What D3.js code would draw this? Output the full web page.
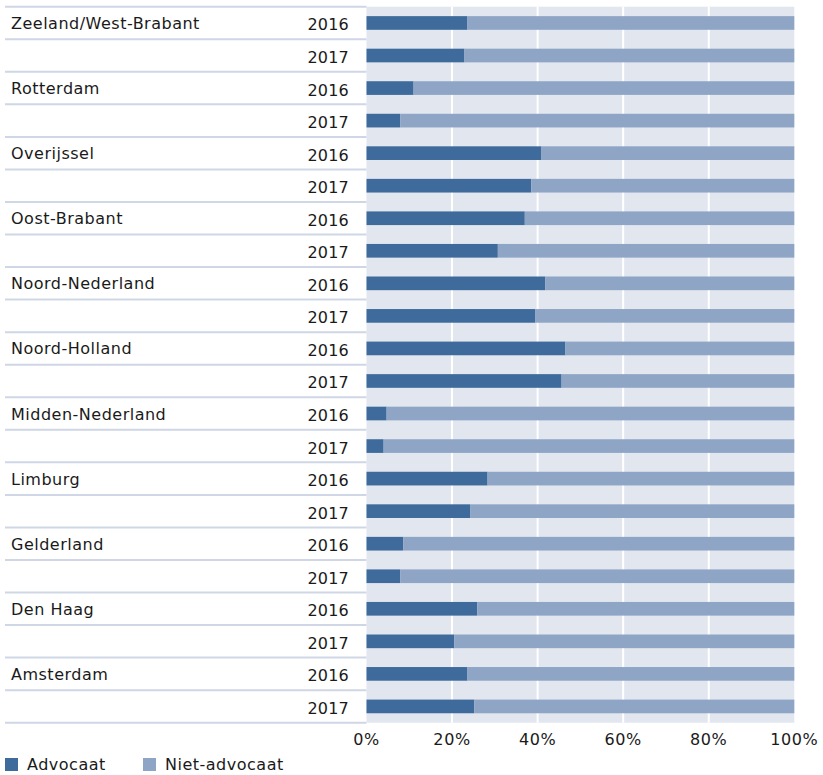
<!DOCTYPE html>
<html>
<head>
<meta charset="utf-8">
<script src="https://cdn.jsdelivr.net/npm/d3@7"></script>
<style>
  body { margin: 0; background: #fff; }
  text { font-family: "DejaVu Sans", Verdana, sans-serif; fill: #1a1a1a; }
</style>
</head>
<body>
<div id="chart"></div>
<script>
// regions, top to bottom, each with 2016 and 2017 rows
var regions = ["Zeeland/West-Brabant", "Rotterdam", "Overijssel", "Oost-Brabant",
  "Noord-Nederland", "Noord-Holland", "Midden-Nederland", "Limburg",
  "Gelderland", "Den Haag", "Amsterdam"];
var years = ["2016", "2017"];

// share "Advocaat" in %, per region
var advocaat2016 = [23.6, 11.0, 40.9, 37.0, 41.8, 46.5, 4.7, 28.3, 8.6, 25.9, 23.6];
var advocaat2017 = [22.9, 7.9, 38.5, 30.7, 39.4, 45.6, 4.0, 24.3, 7.9, 20.5, 25.2];

var ticks = [0, 20, 40, 60, 80, 100];
var seriesNames = ["Advocaat", "Niet-advocaat"];
var colors = ["#3e6b9b", "#8fa5c6"];

// build rows
var rows = [];
regions.forEach(function(r, i) {
  rows.push({ key: r + "|2016", region: r, year: years[0], adv: advocaat2016[i], first: true });
  rows.push({ key: r + "|2017", region: r, year: years[1], adv: advocaat2017[i], first: false });
});

var width = 823, height = 775;
var svg = d3.select("#chart").append("svg")
  .attr("width", width)
  .attr("height", height);

var x = d3.scaleLinear().domain([0, 100]).range([366.5, 794.3]);
var y = d3.scaleBand()
  .domain(rows.map(d => d.key))
  .range([6.7, 722.7])
  .paddingInner(0.58)
  .paddingOuter(0.29);
var step = y.step();

// plot background
svg.append("rect")
  .attr("x", x(0)).attr("y", 6.7)
  .attr("width", x(100) - x(0)).attr("height", 716)
  .attr("fill", "#e1e6ef");

// grid lines
svg.selectAll(".grid")
  .data(ticks.filter(t => t > 0 && t < 100))
  .enter().append("line")
  .attr("x1", d => x(d)).attr("x2", d => x(d))
  .attr("y1", 6.7).attr("y2", 722.7)
  .attr("stroke", "#fff").attr("stroke-width", 2);

// row separator lines in label area
var bounds = d3.range(rows.length + 1).map(i => 6.7 + i * step);
svg.selectAll(".sep")
  .data(bounds)
  .enter().append("line")
  .attr("x1", 5).attr("x2", x(0))
  .attr("y1", d => d).attr("y2", d => d)
  .attr("stroke", "#cfd7e6").attr("stroke-width", 2);

// bars: advocaat + niet-advocaat
var bar = svg.selectAll(".bar")
  .data(rows)
  .enter().append("g");

bar.append("rect")
  .attr("x", x(0))
  .attr("y", d => y(d.key))
  .attr("width", d => x(d.adv) - x(0))
  .attr("height", y.bandwidth())
  .attr("fill", colors[0]);

bar.append("rect")
  .attr("x", d => x(d.adv))
  .attr("y", d => y(d.key))
  .attr("width", d => x(100) - x(d.adv))
  .attr("height", y.bandwidth())
  .attr("fill", colors[1]);

// region labels
svg.selectAll(".region")
  .data(rows.filter(d => d.first))
  .enter().append("text")
  .attr("x", 11)
  .attr("y", d => y(d.key) + y.bandwidth() / 2 + 6)
  .attr("font-size", "16px")
  .style("letter-spacing", "0.5px")
  .text(d => d.region);

// year labels
svg.selectAll(".year")
  .data(rows)
  .enter().append("text")
  .attr("x", 349)
  .attr("y", d => y(d.key) + y.bandwidth() / 2 + 7.5)
  .attr("text-anchor", "end")
  .attr("font-size", "16px")
  .style("letter-spacing", "0.2px")
  .text(d => d.year);

// x axis labels
svg.selectAll(".tick")
  .data(ticks)
  .enter().append("text")
  .attr("x", d => x(d))
  .attr("y", 745)
  .attr("text-anchor", "middle")
  .attr("font-size", "16px")
  .style("letter-spacing", "0.6px")
  .text(d => d + "%");

// legend
var legX = [5, 143];
var leg = svg.selectAll(".legend")
  .data(seriesNames)
  .enter().append("g")
  .attr("transform", (d, i) => "translate(" + legX[i] + ",758)");
leg.append("rect")
  .attr("width", 13).attr("height", 13)
  .attr("fill", (d, i) => colors[i]);
leg.append("text")
  .attr("x", 22).attr("y", 12)
  .attr("font-size", "16px")
  .style("letter-spacing", "0.5px")
  .text(d => d);
</script>
</body>
</html>
